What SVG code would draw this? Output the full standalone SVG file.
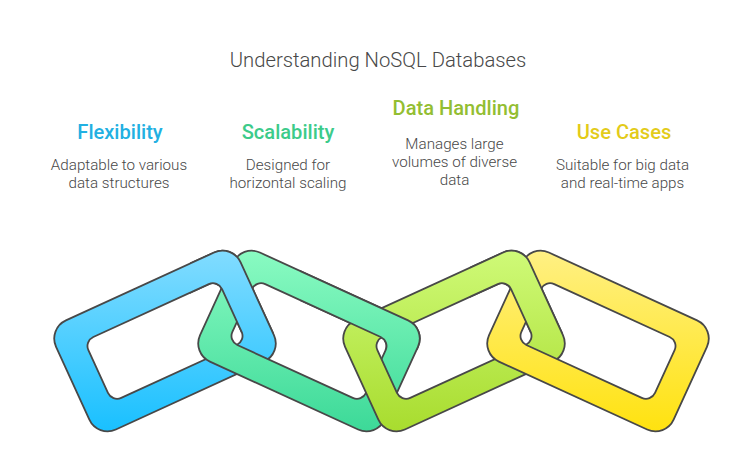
<svg xmlns="http://www.w3.org/2000/svg" width="756" height="454" viewBox="0 0 756 454">
<style>
text{font-family:Roboto,"Liberation Sans",sans-serif;text-anchor:middle}
.t{font-size:20.25px;font-weight:300;fill:#484848}
.h{font-size:20.1px;font-weight:500}
.d{font-size:15.2px;font-weight:300;fill:#484848}
.l{stroke:#484848;stroke-width:1.8;fill-rule:evenodd}
</style>
<defs>
<path id="link" d="M-81.5-60H81.5A20 20 0 0 1 101.5-40V40A20 20 0 0 1 81.5 60H-81.5A20 20 0 0 1-101.5 40V-40A20 20 0 0 1-81.5-60ZM-63.5-33.5A10 10 0 0 0-73.5-23.5V23.5A10 10 0 0 0-63.5 33.5H63.5A10 10 0 0 0 73.5 23.5V-23.5A10 10 0 0 0 63.5-33.5Z"/>
<linearGradient id="gb" gradientUnits="userSpaceOnUse" x1="37.9" y1="-82.7" x2="-37.9" y2="82.7"><stop offset="0" stop-color="#82DCFF"/><stop offset="1" stop-color="#19C0FF"/></linearGradient>
<linearGradient id="gg" gradientUnits="userSpaceOnUse" x1="-37.9" y1="-82.7" x2="37.9" y2="82.7"><stop offset="0" stop-color="#8AFBC2"/><stop offset="1" stop-color="#3CD998"/></linearGradient>
<linearGradient id="gd" gradientUnits="userSpaceOnUse" x1="37.9" y1="-82.7" x2="-37.9" y2="82.7"><stop offset="0" stop-color="#CFFA78"/><stop offset="1" stop-color="#A8DC2E"/></linearGradient>
<linearGradient id="gy" gradientUnits="userSpaceOnUse" x1="-37.9" y1="-82.7" x2="37.9" y2="82.7"><stop offset="0" stop-color="#FFF084"/><stop offset="1" stop-color="#FFE20F"/></linearGradient>
<clipPath id="c1"><rect x="190" y="240" width="100" height="93"/></clipPath>
<clipPath id="c2"><rect x="300" y="240" width="130" height="110"/></clipPath>
<clipPath id="c3"><rect x="470" y="240" width="110" height="93"/></clipPath>
</defs>
<text class="t" x="378" y="67">Understanding NoSQL Databases</text>
<g id="node-flexibility">
<use href="#link" class="l" fill="url(#gb)" transform="translate(165 341) rotate(-24.6)"/>
<text class="h" x="120" y="139" fill="#22B0E2">Flexibility</text>
<text class="d" x="119" y="170">Adaptable to various</text>
<text class="d" x="119" y="188">data structures</text>
</g>
<g id="node-scalability">
<use href="#link" class="l" fill="url(#gg)" transform="translate(309 341) rotate(24.6)"/>
<text class="h" x="288" y="139" fill="#3CCB8A">Scalability</text>
<text class="d" x="288" y="170">Designed for</text>
<text class="d" x="288" y="188">horizontal scaling</text>
</g>
<g clip-path="url(#c1)"><use href="#link" class="l" fill="url(#gb)" transform="translate(165 341) rotate(-24.6)"/></g>
<g id="node-data-handling">
<use href="#link" class="l" fill="url(#gd)" transform="translate(454 341) rotate(-24.6)"/>
<text class="h" x="456" y="115" fill="#93BE32">Data Handling</text>
<text class="d" x="454.5" y="149">Manages large</text>
<text class="d" x="454.5" y="167">volumes of diverse</text>
<text class="d" x="454.5" y="185">data</text>
</g>
<g clip-path="url(#c2)"><use href="#link" class="l" fill="url(#gg)" transform="translate(309 341) rotate(24.6)"/></g>
<g id="node-use-cases">
<use href="#link" class="l" fill="url(#gy)" transform="translate(598 341) rotate(24.6)"/>
<text class="h" x="624" y="139" fill="#E3CB1A">Use Cases</text>
<text class="d" x="622.5" y="170">Suitable for big data</text>
<text class="d" x="622.5" y="188">and real-time apps</text>
</g>
<g clip-path="url(#c3)"><use href="#link" class="l" fill="url(#gd)" transform="translate(454 341) rotate(-24.6)"/></g>
</svg>
